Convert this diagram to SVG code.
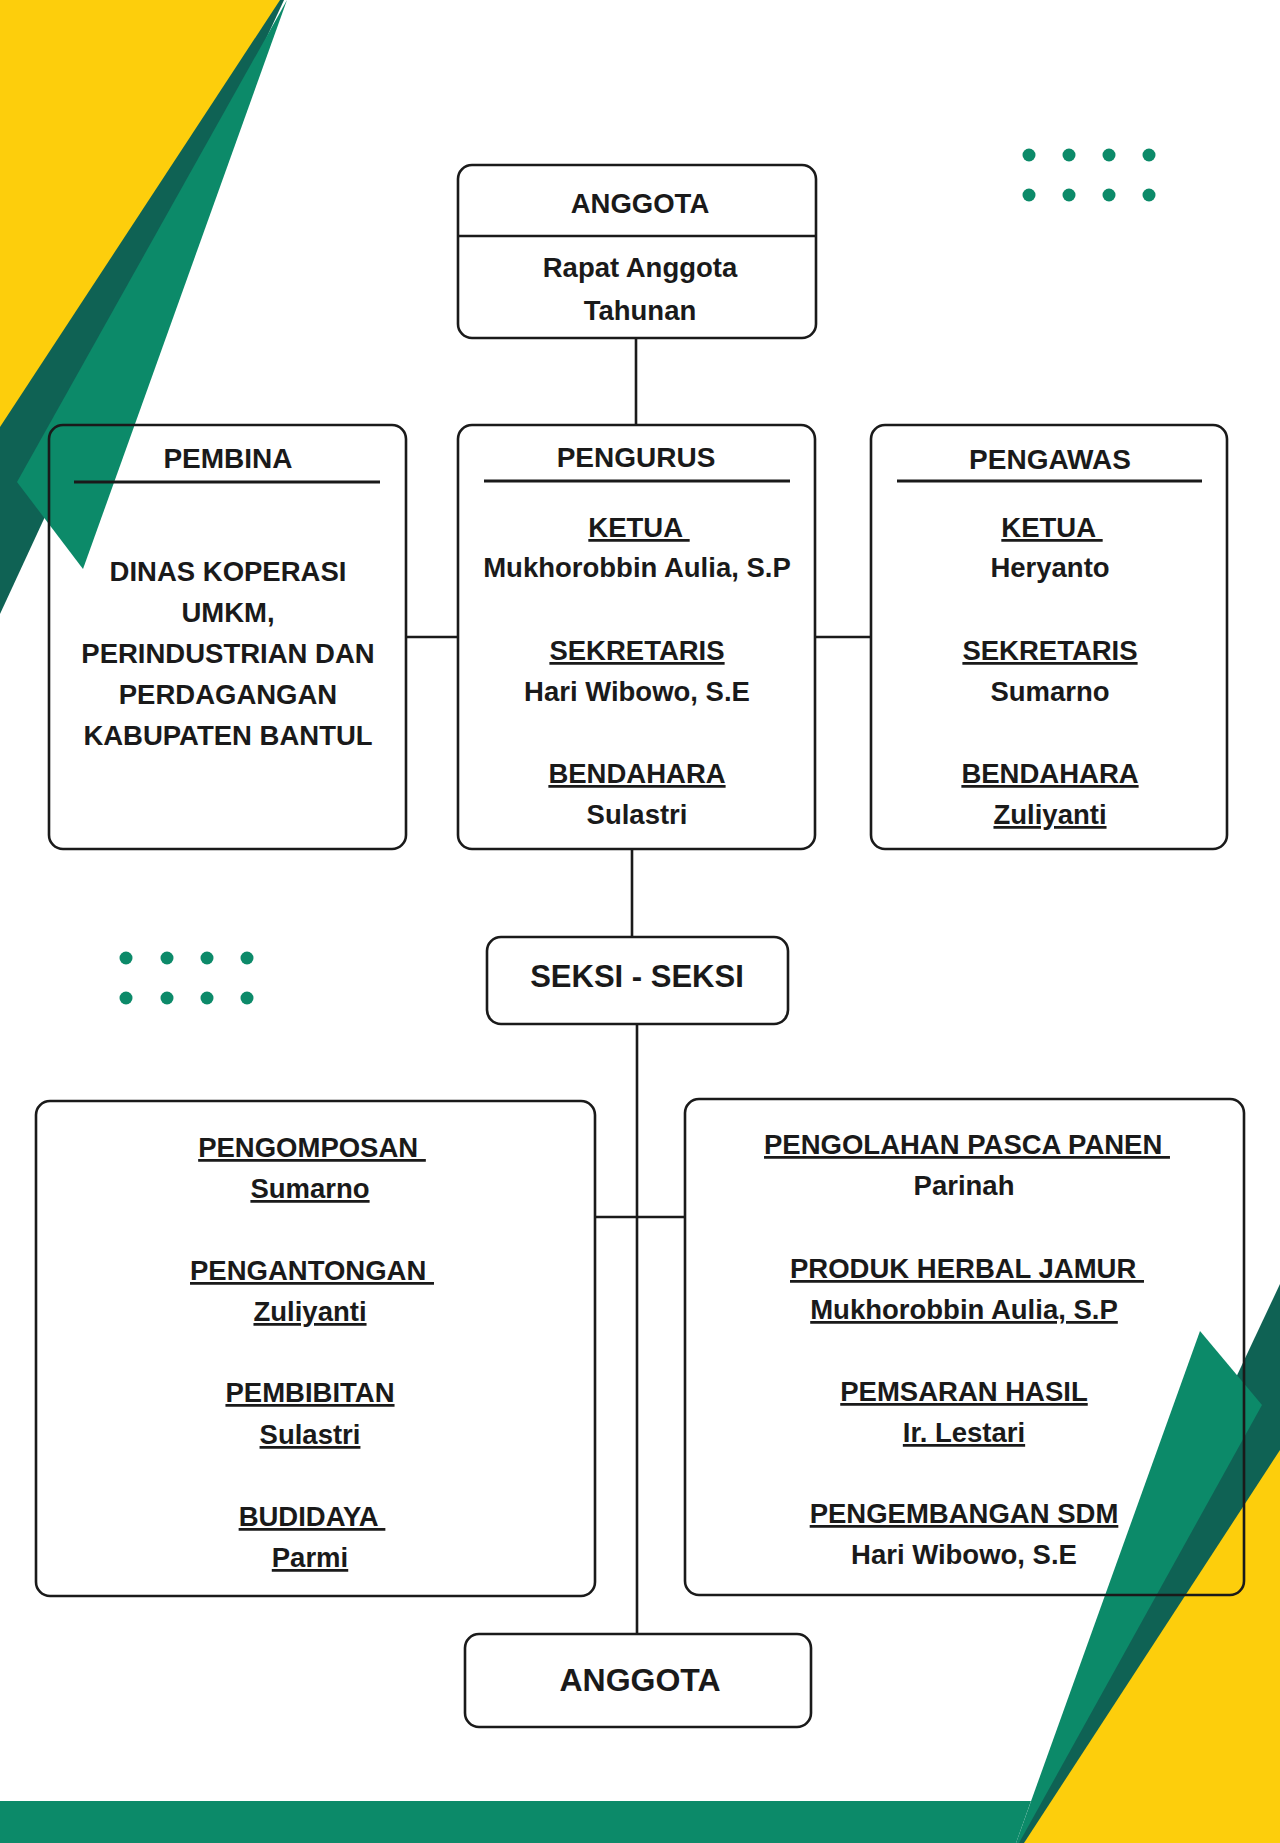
<svg xmlns="http://www.w3.org/2000/svg" width="1280" height="1843" viewBox="0 0 1280 1843">
<style>
.box{fill:none;stroke:#1a1a1a;stroke-width:2.6}
.ln{stroke:#1a1a1a;stroke-width:2.6;fill:none}
.t{font-family:"Liberation Sans",Arial,sans-serif;font-weight:bold;font-size:27.5px;fill:#1a1a1a;text-anchor:middle}
.u{text-decoration:underline;white-space:pre}
.dot{fill:#0c8a69}
</style>
<rect x="0" y="0" width="1280" height="1843" fill="#ffffff"/>
<g id="decor">
<polygon points="0,0 284,0 0,614" fill="#0f6254"/>
<polygon points="0,0 280,0 0,427" fill="#fdce0c"/>
<polygon points="287,0 17,482 83,569" fill="#0c8a69"/>
<polygon points="1280,1284 1280,1843 1017,1843" fill="#0f6254"/>
<polygon points="1280,1450 1280,1843 1024,1843" fill="#fdce0c"/>
<polygon points="1200,1331 1262,1405 1019,1843 1016,1843" fill="#0c8a69"/>
<polygon points="0,1801 1031,1801 1016,1843 0,1843" fill="#0c8a69"/>
<g id="dots-top">
<circle class="dot" cx="1029" cy="155" r="6.5"/><circle class="dot" cx="1069" cy="155" r="6.5"/><circle class="dot" cx="1109" cy="155" r="6.5"/><circle class="dot" cx="1149" cy="155" r="6.5"/>
<circle class="dot" cx="1029" cy="195" r="6.5"/><circle class="dot" cx="1069" cy="195" r="6.5"/><circle class="dot" cx="1109" cy="195" r="6.5"/><circle class="dot" cx="1149" cy="195" r="6.5"/>
</g>
<g id="dots-bottom">
<circle class="dot" cx="126" cy="958" r="6.5"/><circle class="dot" cx="167" cy="958" r="6.5"/><circle class="dot" cx="207" cy="958" r="6.5"/><circle class="dot" cx="247" cy="958" r="6.5"/>
<circle class="dot" cx="126" cy="998" r="6.5"/><circle class="dot" cx="167" cy="998" r="6.5"/><circle class="dot" cx="207" cy="998" r="6.5"/><circle class="dot" cx="247" cy="998" r="6.5"/>
</g>
</g>
<g id="connectors">
<line class="ln" x1="636" y1="338" x2="636" y2="425"/>
<line class="ln" x1="406" y1="637" x2="458" y2="637"/>
<line class="ln" x1="815" y1="637" x2="871" y2="637"/>
<line class="ln" x1="632" y1="849" x2="632" y2="937"/>
<line class="ln" x1="637" y1="1024" x2="637" y2="1634"/>
<line class="ln" x1="595" y1="1217" x2="685" y2="1217"/>
</g>
<g id="anggota-top">
<rect class="box" x="458" y="165" width="358" height="173" rx="14"/>
<line class="ln" x1="458" y1="236" x2="816" y2="236"/>
<text class="t" x="640" y="213" font-size="28">ANGGOTA</text>
<text class="t" x="640" y="277">Rapat Anggota</text>
<text class="t" x="640" y="320">Tahunan</text>
</g>
<g id="pembina">
<rect class="box" x="49" y="425" width="357" height="424" rx="14"/>
<text class="t" x="228" y="468" style="font-size:28px">PEMBINA</text>
<line class="ln" x1="74" y1="482" x2="380" y2="482" style="stroke-width:3"/>
<text class="t" x="228" y="581">DINAS KOPERASI</text>
<text class="t" x="228" y="622">UMKM,</text>
<text class="t" x="228" y="663">PERINDUSTRIAN DAN</text>
<text class="t" x="228" y="704">PERDAGANGAN</text>
<text class="t" x="228" y="745">KABUPATEN BANTUL</text>
</g>
<g id="pengurus">
<rect class="box" x="458" y="425" width="357" height="424" rx="14"/>
<text class="t" x="636" y="467" style="font-size:28px">PENGURUS</text>
<line class="ln" x1="484" y1="481" x2="790" y2="481" style="stroke-width:3"/>
<text class="t u" x="639" y="537">KETUA </text>
<text class="t" x="637" y="577">Mukhorobbin Aulia, S.P</text>
<text class="t u" x="637" y="660">SEKRETARIS</text>
<text class="t" x="637" y="701">Hari Wibowo, S.E</text>
<text class="t u" x="637" y="783">BENDAHARA</text>
<text class="t" x="637" y="824">Sulastri</text>
</g>
<g id="pengawas">
<rect class="box" x="871" y="425" width="356" height="424" rx="14"/>
<text class="t" x="1050" y="469" style="font-size:28px">PENGAWAS</text>
<line class="ln" x1="897" y1="481" x2="1202" y2="481" style="stroke-width:3"/>
<text class="t u" x="1052" y="537">KETUA </text>
<text class="t" x="1050" y="577">Heryanto</text>
<text class="t u" x="1050" y="660">SEKRETARIS</text>
<text class="t" x="1050" y="701">Sumarno</text>
<text class="t u" x="1050" y="783">BENDAHARA</text>
<text class="t u" x="1050" y="824">Zuliyanti</text>
</g>
<g id="seksi">
<rect class="box" x="487" y="937" width="301" height="87" rx="14"/>
<text class="t" x="637" y="987" style="font-size:31px">SEKSI - SEKSI</text>
</g>
<g id="seksi-kiri">
<rect class="box" x="36" y="1101" width="559" height="495" rx="14"/>
<text class="t u" x="312" y="1157">PENGOMPOSAN </text>
<text class="t u" x="310" y="1198">Sumarno</text>
<text class="t u" x="312" y="1280">PENGANTONGAN </text>
<text class="t u" x="310" y="1321">Zuliyanti</text>
<text class="t u" x="310" y="1402">PEMBIBITAN</text>
<text class="t u" x="310" y="1444">Sulastri</text>
<text class="t u" x="312" y="1526">BUDIDAYA </text>
<text class="t u" x="310" y="1567">Parmi</text>
</g>
<g id="seksi-kanan">
<rect class="box" x="685" y="1099" width="559" height="496" rx="14"/>
<text class="t u" x="967" y="1154">PENGOLAHAN PASCA PANEN </text>
<text class="t" x="964" y="1195">Parinah</text>
<text class="t u" x="967" y="1278">PRODUK HERBAL JAMUR </text>
<text class="t u" x="964" y="1319">Mukhorobbin Aulia, S.P</text>
<text class="t u" x="964" y="1401">PEMSARAN HASIL</text>
<text class="t u" x="964" y="1442">Ir. Lestari</text>
<text class="t u" x="964" y="1523">PENGEMBANGAN SDM</text>
<text class="t" x="964" y="1564">Hari Wibowo, S.E</text>
</g>
<g id="anggota-bawah">
<rect class="box" x="465" y="1634" width="346" height="93" rx="14"/>
<text class="t" x="640" y="1691" style="font-size:32px">ANGGOTA</text>
</g>
</svg>
